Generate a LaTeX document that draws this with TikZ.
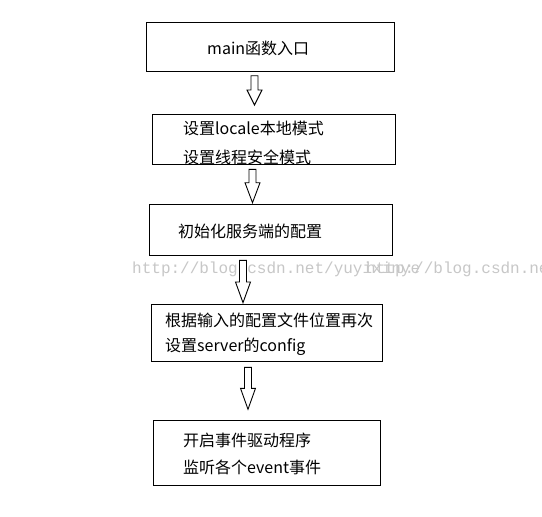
\documentclass[tikz,border=0pt]{standalone}
\usepackage{fontspec}
\newfontfamily\cjk{Noto Sans CJK SC}
\newfontfamily\wmfont{Liberation Mono}
\tikzset{
  box/.style={draw=black, line width=1pt, fill=none, inner sep=0pt},
  txt/.style={anchor=base west, inner sep=0pt, font=\cjk\fontsize{16}{16}\selectfont, text=black},
  wmark/.style={anchor=base west, inner sep=0pt, font=\wmfont\fontsize{16}{16}\selectfont, text=black!22},
  blkarr/.style={draw=black, line width=0.9pt, fill=white, line join=miter}
}
\newcommand{\blkarrow}[4]{%
  \draw[blkarr] (#1-3.5,#2) -- (#1+3.5,#2) -- (#1+3.5,#3) -- (#1+7.5,#3) -- (#1,#4) -- (#1-7.5,#3) -- (#1-3.5,#3) -- cycle;}
\begin{document}
\begin{tikzpicture}[x=1pt,y=-1pt]
\useasboundingbox (0,0) rectangle (542,517);
\fill[white] (0,0) rectangle (542,517);
% watermark
\node[wmark] (wm1) at (132,273) {http://blog.csdn.net/yuyixinye};
\node[wmark] (wm2) at (366,273) {http://blog.csdn.net/yuyixinye};
% boxes
\node[box, minimum width=248pt, minimum height=49pt] (b1) at (270,46.5) {};
\node[box, minimum width=243pt, minimum height=50pt] (b2) at (273.5,139) {};
\node[box, minimum width=243pt, minimum height=51pt] (b3) at (270.5,229.5) {};
\node[box, minimum width=231pt, minimum height=57pt] (b4) at (266.5,332.5) {};
\node[box, minimum width=227pt, minimum height=65pt] (b5) at (266.5,452.5) {};
% texts
\node[txt] (t1) at (207,54) {main函数入口};
\node[txt] (t2a) at (183,134) {设置locale本地模式};
\node[txt] (t2b) at (183,163) {设置线程安全模式};
\node[txt] (t3) at (178,237) {初始化服务端的配置};
\node[txt] (t4a) at (165,326) {根据输入的配置文件位置再次};
\node[txt] (t4b) at (165,351) {设置server的config};
\node[txt] (t5a) at (183,446) {开启事件驱动程序};
\node[txt] (t5b) at (183,473) {监听各个event事件};
% block arrows
\blkarrow{254.5}{75.7}{90}{105}
\blkarrow{252.5}{169.3}{182.7}{202.7}
\blkarrow{243}{260.3}{282}{302.7}
\blkarrow{248}{367.3}{388.3}{409.3}
\end{tikzpicture}
\end{document}
